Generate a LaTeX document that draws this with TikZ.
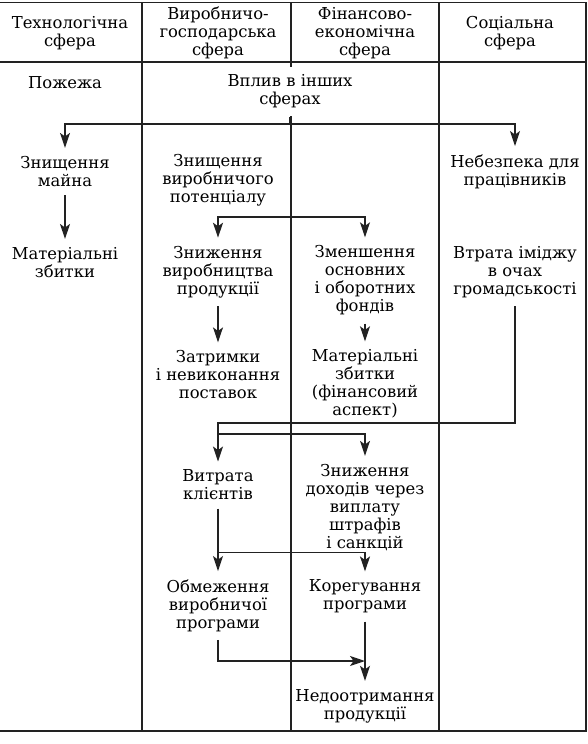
\documentclass[tikz,border=0pt]{standalone}
\usepackage{fontspec}
\setmainfont{DejaVu Serif}
\usepackage{tikz}
\usetikzlibrary{arrows.meta,positioning}
\definecolor{inkgray}{HTML}{222222}

\begin{document}
\begin{tikzpicture}[
  x=0.5pt, y=-0.5pt,
  font=\fontsize{8.2}{9}\selectfont,
  lbl/.style={align=center, inner sep=4pt, text=black},
  rule/.style={line width=0.6pt, inkgray},
  arr/.style={-{Stealth[length=7.5pt,width=5pt,inset=1.8pt]}, line width=0.65pt, inkgray}
]
\useasboundingbox (0,0) rectangle (588,744);
\draw[rule] (0,2.5) -- (586,2.5) -- (586,731) -- (0,731);
\draw[rule] (0,62) -- (586,62);
\foreach \x in {142,291,439} \draw[rule] (\x,2.5) -- (\x,731);

\node[lbl] (h1) at (70,33) {Технологічна\\сфера};
\node[lbl] (h2) at (218,33) {Виробничо-\\господарська\\сфера};
\node[lbl] (h3) at (365,33) {Фінансово-\\економічна\\сфера};
\node[lbl] (h4) at (510,33) {Соціальна\\сфера};

\node[lbl] (pozh) at (65,83) {Пожежа};
\node[lbl, fill=white] (vplyv) at (290,91.5) {Вплив в інших\\сферах};
\node[lbl] (zm) at (65,171.5) {Знищення\\майна};
\node[lbl] (zvp) at (218,180) {Знищення\\виробничого\\потенціалу};
\node[lbl] (neb) at (515,171.5) {Небезпека для\\працівників};
\node[lbl] (mz) at (65,262.5) {Матеріальні\\збитки};
\node[lbl] (znp) at (218,272) {Зниження\\виробництва\\продукції};
\node[lbl] (zmf) at (365,280.5) {Зменшення\\основних\\і оборотних\\фондів};
\node[lbl] (vim) at (515,272) {Втрата іміджу\\в очах\\громадськості};
\node[lbl] (zat) at (218,375) {Затримки\\і невиконання\\поставок};
\node[lbl] (mzf) at (365,384) {Матеріальні\\збитки\\(фінансовий\\аспект)};
\node[lbl] (vk) at (218,485) {Витрата\\клієнтів};
\node[lbl] (zd) at (365,507.5) {Зниження\\доходів через\\виплату\\штрафів\\і санкцій};
\node[lbl] (obm) at (218,605.5) {Обмеження\\виробничої\\програми};
\node[lbl] (kor) at (365,596.5) {Корегування\\програми};
\node[lbl] (ned) at (365,706) {Недоотримання\\продукції};

\coordinate (sp1) at (290,124);
\coordinate (sp2) at (291,217);
\coordinate (bend) at (218,423);
\coordinate (sp3) at (218,434);
\coordinate (sp4) at (218,552.5);
\coordinate (mg) at (365,661);

\draw[rule] (vplyv) -- (sp1);
\draw[arr] (sp1) -| (zm);
\draw[arr] (sp1) -| (neb);
\draw[arr] (zm) -- (mz);
\draw[arr] (sp2) -| (znp);
\draw[arr] (sp2) -| (zmf);
\draw[arr] (znp) -- (zat);
\draw[arr] (zmf) -- (mzf);
\draw[arr] (vim) |- (bend) -- (vk);
\draw[arr] (sp3) -| (zd);
\draw[arr] (vk) -- (obm);
\draw[arr] (sp4) -| (kor);
\draw[arr] (kor) -- (ned);
\draw[arr] (obm) |- (mg);
\end{tikzpicture}
\end{document}
